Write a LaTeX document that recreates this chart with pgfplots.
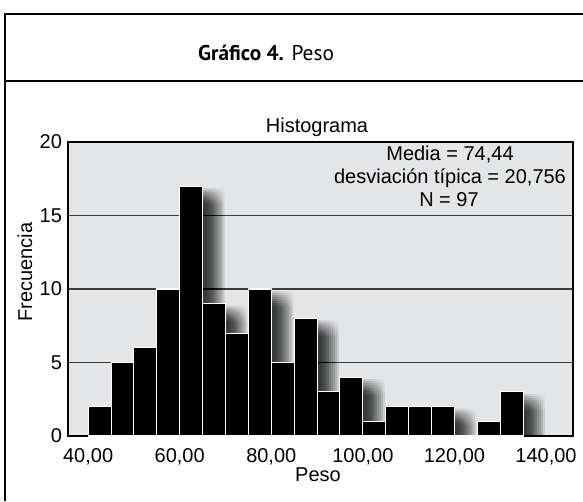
\documentclass[border=0pt]{standalone}
\usepackage{pgfplots}
\pgfplotsset{compat=1.18}
\usepackage{fontspec}
\setmainfont{Liberation Sans}
\newfontfamily\titlefont{PT Sans}
\definecolor{bgray}{RGB}{228,229,231}
\definecolor{ggray}{RGB}{60,60,60}
\pgfplotstableread{
x y
40 2
45 5
50 6
55 10
60 17
65 9
70 7
75 10
80 5
85 8
90 3
95 4
100 1
105 2
110 2
115 2
120 0
125 1
130 3
135 0
}\peso
\begin{document}
\begin{tikzpicture}
\path[use as bounding box] (0pt,0pt) rectangle (437.25pt,375.75pt);
\fill[white] (0pt,0pt) rectangle (437.25pt,375.75pt);
\begin{axis}[
  at={(51pt,48.75pt)}, anchor=south west,
  scale only axis, width=378.75pt, height=220.5pt,
  xmin=35.6, xmax=145.9, ymin=0, ymax=20,
  axis background/.style={fill=bgray},
  axis line style={line width=1.6pt, black},
  xtick={40,60,80,100,120,140},
  xticklabels={40{,}00,60{,}00,80{,}00,100{,}00,120{,}00,140{,}00},
  ytick={0,5,10,15,20},
  major tick length=0pt,
  ymajorgrids, major grid style={ggray, line width=0.8pt},
  /pgf/number format/assume math mode=true,
  tick label style={font=\fontsize{15}{18}\selectfont},
  xticklabel style={yshift=-5.5pt},
  yticklabel style={xshift=-1pt},
]
\foreach \sx in {4,6,...,22} {
  \foreach \sy in {2,4,...,18} {
    \edef\tmp{\noexpand\addplot[ybar interval, fill=black, draw=none, fill opacity=0.012, xshift=\sx*0.75pt, yshift=-\sy*0.75pt] table[x=x,y=y] {\noexpand\peso};}
    \tmp
  }
}
\addplot[ybar interval, fill=black, draw=white, line width=0.8pt] table[x=x,y=y] {\peso};
\end{axis}
\begin{scope}[x=0.75pt,y=0.75pt]
\draw[line width=1.8pt] (5,0) -- (5,487) -- (583,487);
\draw[line width=1.3pt] (5,420) -- (583,420);
\node[font=\titlefont\fontsize{16}{19}\selectfont] at (266,448) {\textbf{Gráfico 4.} Peso};
\node[font=\fontsize{15}{18}\selectfont] at (317,374) {Histograma};
\node[font=\fontsize{15}{18}\selectfont] at (450,346) {Media = 74,44};
\node[font=\fontsize{15}{18}\selectfont] at (450,323) {desviación típica = 20,756};
\node[font=\fontsize{15}{18}\selectfont] at (449,301) {N = 97};
\node[font=\fontsize{15}{18}\selectfont, rotate=90] at (25,229) {Frecuencia};
\node[font=\fontsize{15}{18}\selectfont] at (318,26) {Peso};
\end{scope}
\end{tikzpicture}
\end{document}
